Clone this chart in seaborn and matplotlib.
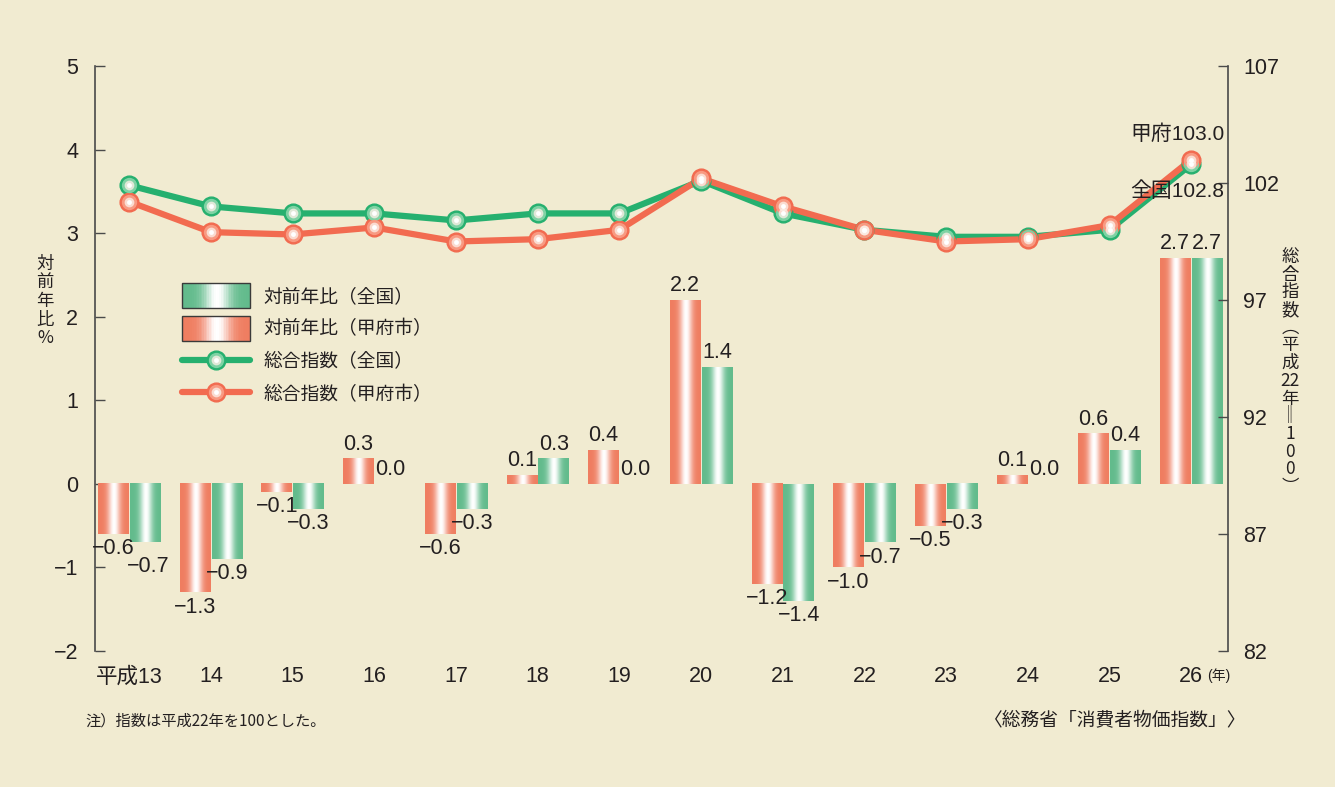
import numpy as np
import pandas as pd
import seaborn as sns
import matplotlib.pyplot as plt
from matplotlib.patches import Rectangle
from matplotlib.lines import Line2D
from matplotlib.legend_handler import HandlerBase, HandlerTuple
from matplotlib.colors import to_rgb

# data
years = ['平成13', '14', '15', '16', '17', '18', '19', '20', '21', '22', '23', '24', '25', '26']
kofu_yoy = [-0.6, -1.3, -0.1, 0.3, -0.6, 0.1, 0.4, 2.2, -1.2, -1.0, -0.5, 0.1, 0.6, 2.7]
japan_yoy = [-0.7, -0.9, -0.3, 0.0, -0.3, 0.3, 0.0, 1.4, -1.4, -0.7, -0.3, 0.0, 0.4, 2.7]
kofu_index = [101.2, 99.9, 99.8, 100.1, 99.5, 99.6, 100.0, 102.2, 101.0, 100.0, 99.5, 99.6, 100.2, 103.0]
japan_index = [101.9, 101.0, 100.7, 100.7, 100.4, 100.7, 100.7, 102.1, 100.7, 100.0, 99.7, 99.7, 100.0, 102.8]
left_ticks = [-2, -1, 0, 1, 2, 3, 4, 5]
right_ticks = [82, 87, 92, 97, 102, 107]

BG = '#f1ebd1'
RED_BAR = '#ef7d60'
GREEN_BAR = '#62bb8c'
RED_LINE = '#f26b50'
GREEN_LINE = '#26b06f'
TEXT = '#231f20'
AXIS = '#4a4a4a'
CJK = ['Noto Sans CJK JP', 'DejaVu Sans']

sns.set_style('ticks')
plt.rcParams['font.family'] = ['Liberation Sans', 'Noto Sans CJK JP', 'DejaVu Sans']
plt.rcParams['axes.unicode_minus'] = True


def cylinder(base, n=64):
    t = np.linspace(0, 1, n)
    w = np.exp(-((t - 0.52) / 0.2) ** 2)
    c = np.array(to_rgb(base))
    cols = c[None, :] * (1 - w[:, None]) + w[:, None]
    return np.clip(cols, 0, 1)


class GradientHandler(HandlerBase):
    def create_artists(self, legend, orig_handle, xdescent, ydescent,
                       width, height, fontsize, trans):
        cols = cylinder(orig_handle.get_facecolor(), 40)
        arts = []
        x0, y0 = -xdescent, -ydescent - height * 0.25
        h = height * 1.5
        step = width / len(cols)
        for i, c in enumerate(cols):
            arts.append(Rectangle((x0 + i * step, y0), step * 1.05, h,
                                  facecolor=c, edgecolor='none', transform=trans))
        arts.append(Rectangle((x0, y0), width, h, facecolor='none',
                              edgecolor='#3a3a3a', lw=1, transform=trans))
        return arts


def marker_layers(axis, x, y, col, light):
    # fake a shaded ball with a few stacked markers
    axis.plot(x, y, 'o', ms=13.5, mfc=col, mec=col, zorder=4)
    axis.plot(x, y, 'o', ms=11, mfc=light, mec='none', zorder=5)
    axis.plot(x, y, 'o', ms=7, mfc='#fbeee6', mec='none', alpha=0.8, zorder=6)
    axis.plot(x, y, 'o', ms=3.5, mfc='white', mec='none', zorder=7)


df = pd.DataFrame({
    'year': years * 2,
    'value': kofu_yoy + japan_yoy,
    'series': ['甲府市'] * len(years) + ['全国'] * len(years),
})

fig = plt.figure(figsize=(13.35, 7.87), dpi=100, facecolor=BG)
ax = fig.add_axes([95 / 1335, 1 - 651 / 787, (1228 - 95) / 1335, (651 - 66) / 787])
ax.set_facecolor(BG)

sns.barplot(data=df, x='year', y='value', hue='series', hue_order=['甲府市', '全国'],
            palette=[RED_BAR, GREEN_BAR], width=0.78, gap=0.04, ax=ax, legend=False)

# cylinder shading on each bar
bar_texts = []
for cont, base in zip(ax.containers, [RED_BAR, GREEN_BAR]):
    for bar in cont:
        x0, w = bar.get_x(), bar.get_width()
        y0, h = bar.get_y(), bar.get_height()
        bar.set_facecolor('none')
        bar.set_linewidth(0)
        if h == 0:
            continue
        ax.imshow(cylinder(base)[None, :, :], extent=[x0, x0 + w, min(y0, y0 + h), max(y0, y0 + h)],
                  aspect='auto', interpolation='bilinear', zorder=2)
    labels = [f'{v:.1f}'.replace('-', '\u2212') for v in cont.datavalues]
    bar_texts.append(ax.bar_label(cont, labels=labels, padding=3, fontsize=15.5, color=TEXT))

# the first national label sits a bit lower in the original so it clears its neighbour
first = bar_texts[1][0]
first.xyann = (first.xyann[0] + 2, first.xyann[1] - 7)

ax.set_xlim(-0.42, 13.45)
ax.set_ylim(-2, 5)
ax.set_yticks(left_ticks)
ax.set_yticklabels([str(t).replace('-', '\u2212') for t in left_ticks])
ax.set_xlabel('')
ax.set_ylabel('')
ax.tick_params(axis='y', direction='in', length=7, width=1, color=AXIS, pad=12,
               labelsize=15.5, labelcolor=TEXT)
ax.tick_params(axis='x', length=0, pad=11, labelsize=15.5, labelcolor=TEXT)
for s in ['top', 'bottom', 'right']:
    ax.spines[s].set_visible(False)
ax.spines['left'].set_color(AXIS)
ax.spines['left'].set_linewidth(1.2)

# index lines on the right axis
ax2 = ax.twinx()
xpos = np.arange(len(years))
for vals, col, light in [(japan_index, GREEN_LINE, '#7fd2a4'), (kofu_index, RED_LINE, '#f89a82')]:
    sns.lineplot(x=xpos, y=vals, ax=ax2, color=col, lw=4.5, zorder=3)
    marker_layers(ax2, xpos, vals, col, light)

ax2.set_ylim(82, 107)
ax2.set_yticks(right_ticks)
ax2.tick_params(axis='y', direction='in', length=7, width=1, color=AXIS, pad=11,
                labelsize=15.5, labelcolor=TEXT)
for s in ['top', 'bottom', 'left']:
    ax2.spines[s].set_visible(False)
ax2.spines['right'].set_color(AXIS)
ax2.spines['right'].set_linewidth(1.2)
ax2.set_xlim(-0.42, 13.45)

ax2.annotate('甲府103.0', xy=(13, kofu_index[-1]), xytext=(-10, 18), textcoords='offset points',
             ha='center', va='center', fontsize=15, color=TEXT)
ax2.annotate('全国102.8', xy=(13, japan_index[-1]), xytext=(-10, -19), textcoords='offset points',
             ha='center', va='center', fontsize=15, color=TEXT)
ax.annotate('(年)', xy=(13, 0), xycoords=('data', 'axes fraction'), xytext=(20, -18),
            textcoords='offset points', ha='center', va='center', fontsize=10, color=TEXT)

# legend
h_green = Rectangle((0, 0), 1, 1, facecolor=GREEN_BAR)
h_red = Rectangle((0, 0), 1, 1, facecolor=RED_BAR)


def line_handle(col, light):
    return (Line2D([], [], color=col, lw=4.5, marker='o', ms=13.5, mfc=col, mec=col),
            Line2D([], [], ls='none', marker='o', ms=11, mfc=light, mec='none'),
            Line2D([], [], ls='none', marker='o', ms=7, mfc='#fbeee6', mec='none', alpha=0.8),
            Line2D([], [], ls='none', marker='o', ms=3.5, mfc='white', mec='none'))


leg = ax.legend([h_green, h_red, line_handle(GREEN_LINE, '#7fd2a4'), line_handle(RED_LINE, '#f89a82')],
                ['対前年比（全国）', '対前年比（甲府市）', '総合指数（全国）', '総合指数（甲府市）'],
                handler_map={Rectangle: GradientHandler(), tuple: HandlerTuple(ndivide=1)},
                loc='upper left', bbox_to_anchor=(182 / 1335, 1 - 286 / 787),
                bbox_transform=fig.transFigure, frameon=False,
                prop={'family': CJK, 'size': 13.5},
                handlelength=3.6, handleheight=1.0, labelspacing=0.62, handletextpad=0.75,
                borderpad=0, borderaxespad=0)
for t in leg.get_texts():
    t.set_color(TEXT)

# axis titles, stacked vertically
fig.text(45 / 1335, 1 - 301 / 787, '対\n前\n年\n比\n%', ha='center', va='center',
         fontsize=12.5, linespacing=1.05, color=TEXT, family=CJK)
fig.text(1290 / 1335, 1 - 372 / 787, '総\n合\n指\n数\n︵\n平\n成\n22\n年\n‖\n1\n0\n0\n︶',
         ha='center', va='center', fontsize=12.5, linespacing=0.98, color=TEXT, family=CJK)

fig.text(85 / 1335, 1 - 721 / 787, '注）指数は平成22年を100とした。', ha='left', va='center',
         fontsize=11, color=TEXT, family=CJK)
fig.text(1246 / 1335, 1 - 721 / 787, '〈総務省「消費者物価指数」〉', ha='right', va='center',
         fontsize=13.5, color=TEXT, family=CJK)

fig.savefig('out.png', dpi=100, facecolor=BG)
